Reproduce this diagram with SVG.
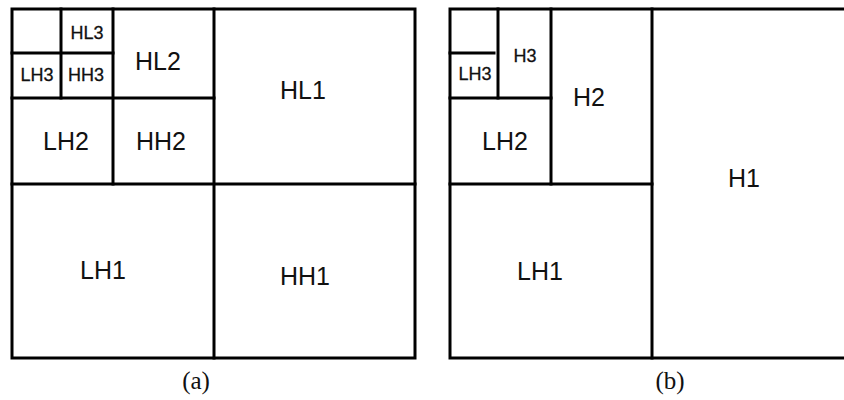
<svg xmlns="http://www.w3.org/2000/svg" width="844" height="400" viewBox="0 0 844 400">
<style>
.ln{stroke:#000;stroke-width:3;fill:none;stroke-linecap:square}
.t{font-family:"Liberation Sans",Arial,sans-serif;font-size:25px;text-anchor:middle;fill:#111}
.s{font-family:"Liberation Sans",Arial,sans-serif;font-size:18px;text-anchor:middle;fill:#111;stroke:#111;stroke-width:0.3}
.c{font-family:"Liberation Serif","Times New Roman",serif;font-size:25px;text-anchor:middle;fill:#111}
</style>
<rect width="844" height="400" fill="#fff"/>
<g id="connectors">
<g id="frame-a">
<rect class="ln" x="12" y="9" width="403" height="349"/>
<line class="ln" x1="214" y1="9" x2="214" y2="358"/>
<line class="ln" x1="12" y1="184" x2="415" y2="184"/>
<line class="ln" x1="113" y1="9" x2="113" y2="184"/>
<line class="ln" x1="12" y1="98" x2="214" y2="98"/>
<line class="ln" x1="61" y1="9" x2="61" y2="98"/>
<line class="ln" x1="12" y1="53" x2="113" y2="53"/>
</g>
<g id="frame-b">
<polyline class="ln" points="846,9 450,9 450,358 846,358"/>
<line class="ln" x1="652" y1="9" x2="652" y2="358"/>
<line class="ln" x1="450" y1="184" x2="652" y2="184"/>
<line class="ln" x1="551" y1="9" x2="551" y2="184"/>
<line class="ln" x1="450" y1="98" x2="551" y2="98"/>
<line class="ln" x1="498" y1="9" x2="498" y2="98"/>
<line class="ln" x1="450" y1="53" x2="494" y2="53"/>
</g>
</g>
<g id="HL3"><text class="s" x="87" y="39">HL3</text></g>
<g id="LH3a"><text class="s" x="37" y="81">LH3</text></g>
<g id="HH3"><text class="s" x="86" y="81">HH3</text></g>
<g id="HL2"><text class="t" x="158" y="70">HL2</text></g>
<g id="LH2a"><text class="t" x="66" y="150">LH2</text></g>
<g id="HH2"><text class="t" x="161" y="150">HH2</text></g>
<g id="HL1"><text class="t" x="303" y="99">HL1</text></g>
<g id="LH1a"><text class="t" x="103" y="279">LH1</text></g>
<g id="HH1"><text class="t" x="305" y="285">HH1</text></g>
<g id="H3"><text class="s" x="525" y="62">H3</text></g>
<g id="LH3b"><text class="s" x="475" y="80">LH3</text></g>
<g id="H2"><text class="t" x="589" y="106">H2</text></g>
<g id="LH2b"><text class="t" x="505" y="150">LH2</text></g>
<g id="H1"><text class="t" x="744" y="187">H1</text></g>
<g id="LH1b"><text class="t" x="540" y="280">LH1</text></g>
<g id="cap-a"><text class="c" x="196" y="389">(a)</text></g>
<g id="cap-b"><text class="c" x="670" y="389">(b)</text></g>
</svg>
